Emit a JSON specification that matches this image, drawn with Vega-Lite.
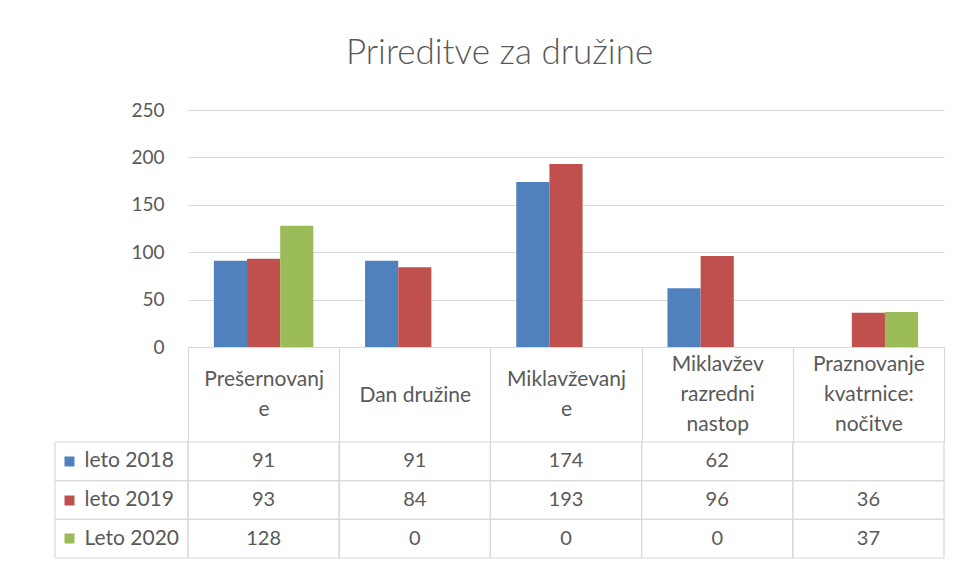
{
  "$schema": "https://vega.github.io/schema/vega-lite/v6.json",
  "background": "white",
  "padding": {"left": 54, "top": 36, "right": 14, "bottom": 5},
  "title": {
    "text": "Prireditve za družine",
    "font": "Lato",
    "fontWeight": 300,
    "fontSize": 35,
    "color": "#595959",
    "anchor": "middle",
    "offset": 30
  },
  "data": {
    "values": [
      {"kategorija": "Prešernovanje", "leto": "leto 2018", "vrednost": 91},
      {"kategorija": "Prešernovanje", "leto": "leto 2019", "vrednost": 93},
      {"kategorija": "Prešernovanje", "leto": "Leto 2020", "vrednost": 128},
      {"kategorija": "Dan družine", "leto": "leto 2018", "vrednost": 91},
      {"kategorija": "Dan družine", "leto": "leto 2019", "vrednost": 84},
      {"kategorija": "Dan družine", "leto": "Leto 2020", "vrednost": 0},
      {"kategorija": "Miklavževanje", "leto": "leto 2018", "vrednost": 174},
      {"kategorija": "Miklavževanje", "leto": "leto 2019", "vrednost": 193},
      {"kategorija": "Miklavževanje", "leto": "Leto 2020", "vrednost": 0},
      {"kategorija": "Miklavžev razredni nastop", "leto": "leto 2018", "vrednost": 62},
      {"kategorija": "Miklavžev razredni nastop", "leto": "leto 2019", "vrednost": 96},
      {"kategorija": "Miklavžev razredni nastop", "leto": "Leto 2020", "vrednost": 0},
      {"kategorija": "Praznovanje kvatrnice: nočitve", "leto": "leto 2018", "vrednost": null},
      {"kategorija": "Praznovanje kvatrnice: nočitve", "leto": "leto 2019", "vrednost": 36},
      {"kategorija": "Praznovanje kvatrnice: nočitve", "leto": "Leto 2020", "vrednost": 37}
    ]
  },
  "columns": 2,
  "spacing": {"row": 95, "column": 0},
  "bounds": "flush",
  "concat": [
    {
      "width": 133,
      "height": 237,
      "data": {"values": [{"prazno": ""}]},
      "mark": {"type": "text"},
      "encoding": {"text": {"field": "prazno", "type": "nominal"}}
    },
    {
      "width": 756,
      "height": 237,
      "mark": {"type": "bar"},
      "encoding": {
        "x": {
          "field": "kategorija",
          "type": "nominal",
          "sort": null,
          "scale": {"paddingInner": 0, "paddingOuter": 0},
          "axis": {
            "title": null,
            "domain": true,
            "domainColor": "#D9D9D9",
            "domainWidth": 1.2,
            "ticks": true,
            "tickBand": "extent",
            "tickSize": 95,
            "tickColor": "#D9D9D9",
            "tickWidth": 1.2,
            "labelAngle": 0,
            "labelAlign": "center",
            "labelBaseline": "middle",
            "labelPadding": {
              "condition": [
                {"test": "datum.value === 'Prešernovanje' || datum.value === 'Miklavževanje'", "value": -63},
                {"test": "datum.value === 'Miklavžev razredni nastop' || datum.value === 'Praznovanje kvatrnice: nočitve'", "value": -78}
              ],
              "value": -47
            },
            "labelLineHeight": 30,
            "labelFontSize": 21,
            "labelColor": "#595959",
            "labelOverlap": false,
            "labelLimit": 0,
            "labelExpr": "datum.value == 'Prešernovanje' ? ['Prešernovanj','e'] : datum.value == 'Miklavževanje' ? ['Miklavževanj','e'] : datum.value == 'Miklavžev razredni nastop' ? ['Miklavžev','razredni','nastop'] : datum.value == 'Praznovanje kvatrnice: nočitve' ? ['Praznovanje','kvatrnice:','nočitve'] : datum.value"
          }
        },
        "xOffset": {
          "field": "leto",
          "type": "nominal",
          "sort": ["leto 2018", "leto 2019", "Leto 2020"],
          "scale": {"paddingInner": 0, "paddingOuter": 0.78}
        },
        "y": {
          "field": "vrednost",
          "type": "quantitative",
          "scale": {"domain": [0, 250], "nice": false},
          "axis": {
            "title": null,
            "values": [0, 50, 100, 150, 200, 250],
            "grid": true,
            "gridColor": "#D9D9D9",
            "gridWidth": 1.2,
            "ticks": false,
            "domain": false,
            "labelPadding": 24,
            "labelFontSize": 19,
            "labelColor": "#595959"
          }
        },
        "color": {
          "field": "leto",
          "type": "nominal",
          "scale": {"domain": ["leto 2018", "leto 2019", "Leto 2020"], "range": ["#4F81BD", "#C0504D", "#9BBB59"]},
          "legend": null
        }
      }
    },
    {
      "width": 133,
      "height": 116,
      "transform": [{"aggregate": [], "groupby": ["leto"]}],
      "mark": {"type": "rect", "filled": false, "stroke": "#D9D9D9", "strokeWidth": 1.2},
      "encoding": {
        "y": {
          "field": "leto",
          "type": "nominal",
          "sort": ["leto 2018", "leto 2019", "Leto 2020"],
          "scale": {"paddingInner": 0, "paddingOuter": 0},
          "axis": {
            "title": null,
            "orient": "left",
            "offset": -19,
            "zindex": 1,
            "domain": false,
            "ticks": true,
            "tickSize": 10,
            "tickWidth": 10,
            "tickCap": "butt",
            "tickColor": {
              "condition": [
                {"test": "datum.value === 'leto 2018'", "value": "#4F81BD"},
                {"test": "datum.value === 'leto 2019'", "value": "#C0504D"}
              ],
              "value": "#9BBB59"
            },
            "labelAlign": "left",
            "labelBaseline": "middle",
            "labelPadding": -20,
            "labelFontSize": 21,
            "labelColor": "#595959",
            "labelLimit": 0
          }
        }
      }
    },
    {
      "width": 756,
      "height": 116,
      "encoding": {
        "x": {
          "field": "kategorija",
          "type": "nominal",
          "sort": null,
          "scale": {"paddingInner": 0, "paddingOuter": 0},
          "axis": null
        },
        "y": {
          "field": "leto",
          "type": "nominal",
          "sort": ["leto 2018", "leto 2019", "Leto 2020"],
          "scale": {"paddingInner": 0, "paddingOuter": 0},
          "axis": null
        }
      },
      "layer": [
        {
          "mark": {"type": "rect", "filled": false, "stroke": "#D9D9D9", "strokeWidth": 1.2}
        },
        {
          "transform": [{"filter": "isValid(datum.vrednost)"}],
          "mark": {"type": "text", "fontSize": 20, "color": "#595959", "align": "center", "baseline": "middle"},
          "encoding": {"text": {"field": "vrednost", "type": "quantitative"}}
        }
      ]
    }
  ],
  "config": {
    "view": {"stroke": null},
    "font": "Lato",
    "axis": {"labelFont": "Lato"}
  }
}
